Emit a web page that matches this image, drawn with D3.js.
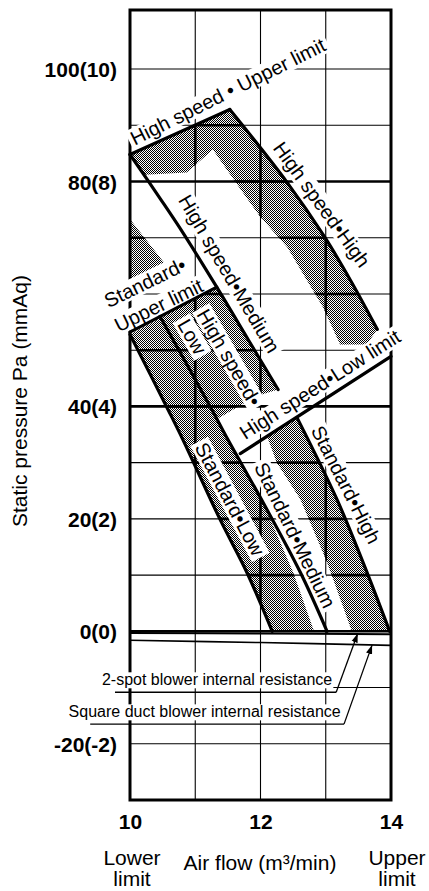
<!DOCTYPE html>
<html><head><meta charset="utf-8">
<script src="https://cdn.jsdelivr.net/npm/d3@7"></script>
<style>
body{margin:0;background:#fff;}
svg{display:block;font-family:"Liberation Sans",Arial,Helvetica,sans-serif;}
</style></head><body>
<svg id="chart" width="429" height="891"></svg>
<script>
// ---------- data ----------
const xTicks = [10, 12, 14];
const xTickLabels = ["10", "12", "14"];
const yTicks = [100, 80, 40, 20, 0, -20];
const yTickLabels = ["100(10)", "80(8)", "40(4)", "20(2)", "0(0)", "-20(-2)"];
const xGrid = [11, 12, 13];
const yGrid = [-20, -10, 0, 10, 20, 30, 40, 50, 60, 70, 80, 90, 100];
const yGridBold = [0, 40, 80];

// fan curves [air flow m3/min, static pressure Pa]
const hsUpperLimit = [[10.00, 84.8], [11.53, 92.8]];
const hsHigh = [[11.53, 92.8], [12.41, 79.8], [12.99, 70.0], [13.40, 62.0], [13.79, 53.7]];
const hsMedium = [[10.00, 84.8], [10.46, 77.0], [10.81, 70.9], [11.33, 61.2], [11.81, 51.9], [12.27, 43.0]];
const stdUpperLimit = [[10.00, 53.2], [11.33, 61.2]];
const hsLowLimit = [[11.69, 31.6], [14.00, 48.9]];
const stdHigh = [[12.56, 38.0], [13.17, 23.5], [13.57, 12.3], [13.98, 0]];
const stdMedium = [[10.46, 56.0], [10.87, 47.5], [11.27, 39.1], [11.50, 34.1], [12.04, 22.9], [12.61, 10.5], [13.02, 0]];
const stdLow = [[10.00, 52.8], [10.58, 39.5], [10.81, 34.1], [11.38, 19.9], [11.79, 10.5], [12.18, 0]];
const twoSpotResistance = [[10, -0.3], [12, -0.4], [14, -0.5]];
const squareDuctResistance = [[10, -1.6], [12, -2.0], [14, -2.5]];

// stippled ranges
const bandHighSpeed = [[10.00, 84.8], [11.53, 92.8], [12.41, 79.8], [12.99, 70.0], [13.40, 62.0], [13.79, 53.7],
  [13.63, 51.0], [13.22, 51.0], [12.96, 57.6], [12.41, 68.3], [11.99, 73.8], [11.64, 79.5], [11.27, 85.7],
  [10.87, 81.6], [10.23, 81.2]];
const bandCorner = [[10.00, 73.3], [10.54, 65.3], [10.00, 61.7]];
const bandStandard = [[10.00, 52.8], [11.33, 61.2], [11.81, 51.9], [12.27, 43.0], [11.93, 41.8], [11.33, 37.7],
  [11.50, 34.1], [12.04, 22.9], [12.50, 10.5], [12.82, 0], [12.18, 0], [11.79, 10.5], [11.38, 19.9],
  [10.81, 34.1], [10.58, 39.5]];
const bandStdHigh = [[12.10, 34.7], [12.56, 38.0], [13.17, 23.5], [13.57, 12.3], [13.98, 0], [13.40, 0],
  [13.02, 12.3], [12.61, 23.5], [12.25, 30.0]];

// labels along the curves (anchor in data units, angle in degrees)
const curveLabels = [
  {text: "High speed • Upper limit", x: 11.50, y: 96.0, angle: -26.5},
  {text: "High speed•High", x: 12.94, y: 75.9, angle: 54},
  {text: "High speed•Medium", x: 11.52, y: 63.6, angle: 59.5},
  {text: "Standard•", x: 10.23, y: 62.0, angle: -26},
  {text: "Upper limit", x: 10.44, y: 58.0, angle: -26},
  {text: "High speed•", x: 11.52, y: 48.7, angle: 60},
  {text: "Low", x: 10.95, y: 52.4, angle: 60},
  {text: "High speed•Low limit", x: 12.91, y: 43.9, angle: -32.5},
  {text: "Standard•Low", x: 11.53, y: 23.5, angle: 62},
  {text: "Standard•Medium", x: 12.53, y: 17.1, angle: 64},
  {text: "Standard•High", x: 13.31, y: 26.1, angle: 63}
];
const resistanceLabels = [
  {text: "2-spot blower internal resistance", xEnd: 13.10, yBase: -9.6, ux0: 9.77, ux1: 13.16, uy: -10.84, tip: [13.49, -0.4]},
  {text: "Square duct blower internal resistance", xEnd: 13.23, yBase: -15.3, ux0: 9.39, ux1: 13.28, uy: -16.5, tip: [13.71, -2.45]}
];

// ---------- chart ----------
const svg = d3.select("#chart");
const x = d3.scaleLinear().domain([10, 14]).range([130, 391]);
const y = d3.scaleLinear().domain([-30, 110.5]).range([800, 10]);

const defs = svg.append("defs");
const pat = defs.append("pattern").attr("id", "stipple").attr("patternUnits", "userSpaceOnUse")
  .attr("width", 2).attr("height", 2);
pat.append("rect").attr("x", 0).attr("y", 0).attr("width", 1).attr("height", 1).attr("fill", "#000");
pat.append("rect").attr("x", 1).attr("y", 1).attr("width", 1).attr("height", 1).attr("fill", "#000");
defs.append("marker").attr("id", "arrow").attr("viewBox", "0 0 10 10").attr("refX", 10).attr("refY", 5)
  .attr("markerWidth", 9).attr("markerHeight", 9).attr("markerUnits", "userSpaceOnUse").attr("orient", "auto")
  .append("path").attr("d", "M0,1.5L10,5L0,8.5Z").attr("fill", "#000");

const bands = [bandHighSpeed, bandCorner, bandStandard, bandStdHigh];
const poly = d3.line().x(d => x(d[0])).y(d => y(d[1]));
const clip = defs.append("clipPath").attr("id", "bandClip");
bands.forEach(b => clip.append("path").attr("d", poly(b) + "Z"));

function drawGrid(g, boldAll) {
  g.selectAll(".hg").data(yGrid).join("line").attr("class", "hg")
    .attr("x1", x(10)).attr("x2", x(14)).attr("y1", d => y(d)).attr("y2", d => y(d))
    .attr("stroke", "#000").attr("stroke-width", d => (boldAll || yGridBold.includes(d)) ? 2.6 : 1.1);
  g.selectAll(".vg").data(xGrid).join("line").attr("class", "vg")
    .attr("x1", d => x(d)).attr("x2", d => x(d)).attr("y1", y(110.5)).attr("y2", y(-30))
    .attr("stroke", "#000").attr("stroke-width", boldAll ? 2.6 : 1.1);
}
drawGrid(svg.append("g"), false);

svg.append("g").selectAll("path").data(bands).join("path")
  .attr("d", d => poly(d) + "Z").attr("fill", "url(#stipple)");
drawGrid(svg.append("g").attr("clip-path", "url(#bandClip)"), true);

// frame
svg.append("rect").attr("x", x(10)).attr("y", y(110.5)).attr("width", x(14) - x(10))
  .attr("height", y(-30) - y(110.5)).attr("fill", "none").attr("stroke", "#000").attr("stroke-width", 3);

// label boxes + text
const lab = svg.append("g").attr("font-size", 20);
curveLabels.forEach(l => {
  const gg = lab.append("g").attr("transform", `translate(${x(l.x)},${y(l.y)}) rotate(${l.angle})`);
  const t = gg.append("text").attr("text-anchor", "middle").attr("dominant-baseline", "central").text(l.text);
  const bb = t.node().getBBox();
  gg.insert("rect", "text").attr("x", bb.x - 3).attr("y", bb.y + 1).attr("width", bb.width + 6)
    .attr("height", bb.height - 2).attr("fill", "#fff");
});

// curves
const smooth = d3.line().x(d => x(d[0])).y(d => y(d[1])).curve(d3.curveCatmullRom.alpha(0.5));
const curves = [hsUpperLimit, hsHigh, hsMedium, stdUpperLimit, hsLowLimit, stdHigh, stdMedium, stdLow];
svg.append("g").selectAll("path").data(curves).join("path")
  .attr("d", d => smooth(d)).attr("fill", "none").attr("stroke", "#000").attr("stroke-width", 3.2)
  .attr("stroke-linecap", "round").attr("stroke-linejoin", "round");
svg.append("path").attr("d", smooth(twoSpotResistance)).attr("fill", "none").attr("stroke", "#000").attr("stroke-width", 2);
svg.append("path").attr("d", smooth(squareDuctResistance)).attr("fill", "none").attr("stroke", "#000").attr("stroke-width", 1.6);

// resistance annotations
const ra = svg.append("g").attr("font-size", 16);
resistanceLabels.forEach(r => {
  const t = ra.append("text").attr("x", x(r.xEnd)).attr("y", y(r.yBase)).attr("text-anchor", "end").text(r.text);
  const bb = t.node().getBBox();
  ra.insert("rect", "text").attr("x", bb.x - 1).attr("y", bb.y + 1).attr("width", bb.width + 2)
    .attr("height", bb.height - 1).attr("fill", "#fff");
  ra.append("line").attr("x1", x(r.ux0)).attr("x2", x(r.ux1)).attr("y1", y(r.uy)).attr("y2", y(r.uy))
    .attr("stroke", "#000").attr("stroke-width", 1.3);
  ra.append("line").attr("x1", x(r.ux1)).attr("y1", y(r.uy)).attr("x2", x(r.tip[0])).attr("y2", y(r.tip[1]))
    .attr("stroke", "#000").attr("stroke-width", 1.3).attr("marker-end", "url(#arrow)");
});

// axes
const yLab = new Map(yTicks.map((v, i) => [v, yTickLabels[i]]));
const xLab = new Map(xTicks.map((v, i) => [v, xTickLabels[i]]));
const yAxis = svg.append("g").attr("transform", "translate(120,0)")
  .call(d3.axisLeft(y).tickValues(yTicks).tickSize(0).tickPadding(3).tickFormat(d => yLab.get(d)));
yAxis.select(".domain").remove();
yAxis.selectAll("text").attr("font-size", 21).attr("font-weight", "bold")
  .attr("font-family", "'Liberation Sans',Arial,sans-serif").attr("fill", "#000").attr("dy", "0.36em");
const xAxis = svg.append("g").attr("transform", "translate(0,800)")
  .call(d3.axisBottom(x).tickValues(xTicks).tickSize(0).tickPadding(14).tickFormat(d => xLab.get(d)));
xAxis.select(".domain").remove();
xAxis.selectAll("text").attr("font-size", 21).attr("font-weight", "bold")
  .attr("font-family", "'Liberation Sans',Arial,sans-serif").attr("fill", "#000");

// axis titles
const tt = svg.append("g").attr("font-size", 21).attr("fill", "#000");
tt.append("text").attr("transform", "translate(27,401) rotate(-90)").attr("text-anchor", "middle")
  .text("Static pressure Pa (mmAq)");
tt.append("text").attr("x", 260).attr("y", 870).attr("text-anchor", "middle").text("Air flow (m³/min)");
[["Lower", "limit", x(10) + 2], ["Upper", "limit", x(14) + 6]].forEach(([a, b, cx]) => {
  tt.append("text").attr("x", cx).attr("y", 865).attr("text-anchor", "middle").text(a);
  tt.append("text").attr("x", cx).attr("y", 886).attr("text-anchor", "middle").text(b);
});
</script>
</body></html>
